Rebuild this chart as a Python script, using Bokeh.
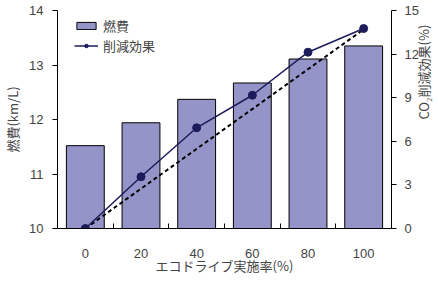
import math
from bokeh.plotting import figure
from bokeh.models import (Range1d, LinearAxis, FixedTicker, Legend, LegendItem,
                          ColumnDataSource)
from bokeh.embed import file_html
from bokeh.resources import INLINE

# ---- data ----
rates = [0, 20, 40, 60, 80, 100]
rate_labels = ["0", "20", "40", "60", "80", "100"]
fuel = [11.52, 11.94, 12.37, 12.67, 13.11, 13.35]          # 燃費 (km/L)
reduction = [0.0, 3.56, 6.93, 9.17, 12.13, 13.76]          # 削減効果 (%)
ref_rates = [0, 100]
ref_reduction = [0.0, 13.7]                                 # 破線 (比例)
fuel_ticks = [10, 11, 12, 13, 14]
red_ticks = [0, 3, 6, 9, 12, 15]

FONT = "Noto Sans CJK JP"
NUMFONT = "Liberation Sans"
BAR = "#9494c8"
NAVY = "#1c1c5c"

p = figure(frame_width=334, frame_height=218, output_backend="svg",
           toolbar_location=None,
           x_range=Range1d(-10, 110), y_range=Range1d(10, 14),
           min_border_left=10, min_border_right=10, min_border_top=10,
           min_border_bottom=10)
p.outline_line_color = None
p.xgrid.visible = False
p.ygrid.visible = False
p.extra_y_ranges = {"eff": Range1d(0, 15)}

src = ColumnDataSource(dict(x=rates, fuel=fuel, red=reduction))
bars = p.vbar(x="x", top="fuel", bottom=10, width=13.6, source=src,
              fill_color=BAR, line_color="black", line_width=1)
p.line(ref_rates, ref_reduction, y_range_name="eff", line_color="black",
       line_width=2, line_dash="4 3")
ln = p.line("x", "red", source=src, y_range_name="eff", line_color=NAVY,
            line_width=1.5)
sc = p.scatter("x", "red", source=src, y_range_name="eff", size=8,
               fill_color=NAVY, line_color=NAVY)

# x axis
xa = p.xaxis[0]
xa.ticker = FixedTicker(ticks=rates, minor_ticks=[10, 30, 50, 70, 90])
xa.major_label_overrides = {r: l for r, l in zip(rates, rate_labels)}
xa.major_tick_in = 0
xa.major_tick_out = 0
xa.minor_tick_in = 5
xa.minor_tick_out = 0
xa.major_label_standoff = 20
xa.axis_label = "エコドライブ実施率(%)"
xa.axis_label_standoff = -5
xa.axis_label_text_font_style = "normal"
xa.axis_label_text_font_size = "13px"
xa.axis_label_text_font = FONT
xa.major_label_text_font = NUMFONT
xa.major_label_text_font_size = "13px"

# left axis
ya = p.yaxis[0]
ya.ticker = FixedTicker(ticks=fuel_ticks, minor_ticks=[])
ya.major_tick_in = 0
ya.major_tick_out = 5
ya.major_label_standoff = 9
ya.axis_label = "燃費(km/L)"
ya.axis_label_standoff = 4
ya.axis_label_text_font_style = "normal"
ya.axis_label_text_font_size = "13px"
ya.axis_label_text_font = FONT
ya.major_label_text_font = NUMFONT
ya.major_label_text_font_size = "13px"

# right axis
ra = LinearAxis(y_range_name="eff", ticker=FixedTicker(ticks=red_ticks, minor_ticks=[]))
ra.major_tick_in = 0
ra.major_tick_out = 5
ra.major_label_standoff = 8
ra.major_label_text_font = NUMFONT
ra.major_label_text_font_size = "13px"
ra.axis_label = "CO₂削減効果(%)"
ra.axis_label_standoff = 2
ra.axis_label_text_font_style = "normal"
ra.axis_label_text_font_size = "13px"
ra.axis_label_text_font = FONT
if "axis_label_orientation" in ra.properties():
    ra.axis_label_orientation = math.pi / 2
p.add_layout(ra, "right")

legend = Legend(items=[LegendItem(label="燃費", renderers=[bars]),
                       LegendItem(label="削減効果", renderers=[ln, sc])],
                location=(17, 173), border_line_color=None,
                background_fill_alpha=0, padding=0, margin=0, spacing=0,
                glyph_width=24, glyph_height=9, label_height=20,
                label_standoff=5, label_text_font=FONT,
                label_text_font_size="13px")
p.add_layout(legend, "center")

open("out.html", "w").write(file_html(p, INLINE))
